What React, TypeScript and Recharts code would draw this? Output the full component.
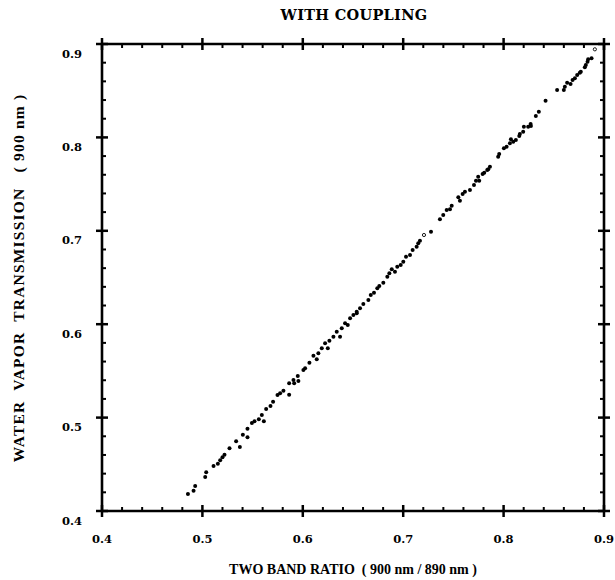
import React from 'react';
import { ScatterChart, Scatter, XAxis, YAxis } from 'recharts';

const ratio = [
  0.4856, 0.4912, 0.4928, 0.5028, 0.5038, 0.5111, 0.5154, 0.5177, 0.52, 0.522,
  0.527, 0.5336, 0.5373, 0.5403, 0.5449, 0.5449, 0.5493, 0.5519, 0.5562, 0.5612,
  0.5592, 0.5635, 0.5678, 0.5704, 0.5748, 0.5774, 0.5807, 0.5864, 0.5864, 0.5907,
  0.5914, 0.595, 0.5956, 0.6006, 0.6023, 0.6066, 0.6106, 0.6139, 0.6155, 0.6189,
  0.6222, 0.6249, 0.6265, 0.6305, 0.6338, 0.6371, 0.6388, 0.6421, 0.6448, 0.6471,
  0.6504, 0.6537, 0.657, 0.6603, 0.6537, 0.6653, 0.6677, 0.6709, 0.6742, 0.6762,
  0.6802, 0.6842, 0.6862, 0.6886, 0.6918, 0.6941, 0.6975, 0.7001, 0.7028, 0.7068,
  0.7094, 0.7134, 0.715, 0.7167, 0.7277, 0.7366, 0.7399, 0.7433, 0.7466, 0.7483,
  0.7549, 0.7565, 0.7592, 0.7615, 0.7665, 0.7705, 0.7725, 0.7757, 0.7747, 0.7791,
  0.7807, 0.7837, 0.7847, 0.7864, 0.7946, 0.7956, 0.8003, 0.803, 0.8063, 0.8073,
  0.8096, 0.8122, 0.8156, 0.8162, 0.8195, 0.8202, 0.8245, 0.8269, 0.8272, 0.8321,
  0.8351, 0.8418, 0.8533, 0.86, 0.861, 0.8633, 0.8667, 0.8687, 0.871, 0.8733,
  0.8759, 0.8769, 0.8809, 0.8819, 0.8836, 0.8842, 0.8876,
];

const transmission = [
  0.4182, 0.4217, 0.4268, 0.4364, 0.4414, 0.4482, 0.4507, 0.4543, 0.4575, 0.4603,
  0.4671, 0.4746, 0.4685, 0.4817, 0.4789, 0.4881, 0.4942, 0.496, 0.4982, 0.496,
  0.5028, 0.5092, 0.5124, 0.517, 0.5242, 0.526, 0.5288, 0.5245, 0.5367, 0.5403,
  0.5367, 0.5445, 0.5392, 0.551, 0.5528, 0.5588, 0.5663, 0.5624, 0.5688, 0.5742,
  0.5795, 0.5742, 0.5823, 0.5866, 0.592, 0.5866, 0.5956, 0.601, 0.5991, 0.6063,
  0.6099, 0.6134, 0.617, 0.6216, 0.6117, 0.6259, 0.6313, 0.6337, 0.6384, 0.6409,
  0.6444, 0.6509, 0.6545, 0.6588, 0.6562, 0.6616, 0.6634, 0.6669, 0.6723, 0.6741,
  0.6794, 0.683, 0.6866, 0.6894, 0.699, 0.7123, 0.7169, 0.7223, 0.723, 0.7269,
  0.7359, 0.7322, 0.7394, 0.7419, 0.7437, 0.749, 0.7537, 0.7537, 0.7579, 0.7608,
  0.7622, 0.7651, 0.7658, 0.7686, 0.7793, 0.7822, 0.7883, 0.79, 0.7937, 0.798,
  0.7954, 0.7972, 0.8015, 0.8036, 0.8061, 0.8115, 0.8115, 0.8143, 0.8122, 0.8229,
  0.8275, 0.8393, 0.8508, 0.8508, 0.8543, 0.8586, 0.8572, 0.8615, 0.8633, 0.8668,
  0.8693, 0.8704, 0.875, 0.8775, 0.8811, 0.8836, 0.8847,
];

const hollowRatio = [0.7207, 0.8909];
const hollowTransmission = [0.6955, 0.8943];

const majorTicks = [0.4, 0.5, 0.6, 0.7, 0.8, 0.9];
const minorTicks = [
  0.42, 0.44, 0.46, 0.48, 0.52, 0.54, 0.56, 0.58, 0.62, 0.64, 0.66, 0.68,
  0.72, 0.74, 0.76, 0.78, 0.82, 0.84, 0.86, 0.88,
];
const tickLabels = ['0.4', '0.5', '0.6', '0.7', '0.8', '0.9'];

const TITLE = 'WITH COUPLING';
const X_TITLE = 'TWO BAND RATIO  ( 900 nm / 890 nm )';
const Y_TITLE = 'WATER  VAPOR  TRANSMISSION   ( 900 nm )';

const filled = ratio.map((r, i) => ({ x: r, y: transmission[i] }));
const hollow = hollowRatio.map((r, i) => ({ x: r, y: hollowTransmission[i] }));
const allTicks = [...majorTicks, ...minorTicks].sort((a, b) => a - b);

const FONT = '"DejaVu Serif", serif';
const TFONT = '"Liberation Serif", "Times New Roman", serif';

const labelFor = (v: number) => {
  const i = majorTicks.findIndex((m) => Math.abs(m - v) < 1e-6);
  return i >= 0 ? tickLabels[i] : null;
};

const makeTick = (orientation: 'bottom' | 'top' | 'left' | 'right') => (props: any) => {
  const x = Number(props.x);
  const y = Number(props.y);
  const lbl = labelFor(props.payload.value);
  const major = lbl !== null;
  let d = '';
  let w = 2;
  if (orientation === 'bottom' || orientation === 'top') {
    if (major) {
      d = `M${x},${y - 6}L${x},${y + 6}`;
      w = 2.5;
    } else {
      const k = orientation === 'bottom' ? -4 : 4;
      d = `M${x},${y}L${x},${y + k}`;
    }
  } else {
    if (major) {
      d = `M${x - 6},${y}L${x + 6},${y}`;
      w = 2.5;
    } else {
      const k = orientation === 'left' ? 4 : -4;
      d = `M${x},${y}L${x + k},${y}`;
    }
  }
  return (
    <g>
      <path d={d} stroke="#000" strokeWidth={w} fill="none" />
      {major && orientation === 'bottom' ? (
        <text x={x} y={y + 32} textAnchor="middle" fontFamily={FONT} fontWeight="bold" fontSize={11.5} fill="#000">
          {lbl}
        </text>
      ) : null}
      {major && orientation === 'left' ? (
        <text x={x - 20} y={y + 13.5} textAnchor="end" fontFamily={FONT} fontWeight="bold" fontSize={11.5} fill="#000">
          {lbl}
        </text>
      ) : null}
    </g>
  );
};

const FilledDot = (p: any) => <circle cx={p.cx} cy={p.cy} r={2} fill="#000" />;
const HollowDot = (p: any) => <circle cx={p.cx} cy={p.cy} r={1.6} fill="#fff" stroke="#000" strokeWidth={0.9} />;

const axisLine = { stroke: '#000', strokeWidth: 2.6 };

export default function App() {
  return (
    <div style={{ position: 'absolute', left: 0, top: 0, width: 615, height: 580, background: '#fff' }}>
      <ScatterChart width={615} height={580} margin={{ top: 43, right: 10, bottom: 0, left: 0 }}>
        <XAxis
          xAxisId="b"
          dataKey="x"
          type="number"
          domain={[0.4, 0.9]}
          ticks={allTicks}
          interval={0}
          allowDataOverflow
          height={69}
          orientation="bottom"
          tickSize={0}
          tickMargin={0}
          tickLine={false}
          axisLine={axisLine}
          tick={makeTick('bottom')}
        />
        <XAxis
          xAxisId="t"
          dataKey="x"
          type="number"
          domain={[0.4, 0.9]}
          ticks={allTicks}
          interval={0}
          allowDataOverflow
          height={1}
          orientation="top"
          tickSize={0}
          tickMargin={0}
          tickLine={false}
          axisLine={axisLine}
          tick={makeTick('top')}
        />
        <YAxis
          yAxisId="l"
          dataKey="y"
          type="number"
          domain={[0.4, 0.9]}
          ticks={allTicks}
          interval={0}
          allowDataOverflow
          width={102}
          orientation="left"
          tickSize={0}
          tickMargin={0}
          tickLine={false}
          axisLine={axisLine}
          tick={makeTick('left')}
        />
        <YAxis
          yAxisId="r"
          dataKey="y"
          type="number"
          domain={[0.4, 0.9]}
          ticks={allTicks}
          interval={0}
          allowDataOverflow
          width={1}
          orientation="right"
          tickSize={0}
          tickMargin={0}
          tickLine={false}
          axisLine={axisLine}
          tick={makeTick('right')}
        />
        <Scatter data={filled} xAxisId="b" yAxisId="l" shape={FilledDot} isAnimationActive={false} />
        <Scatter data={hollow} xAxisId="b" yAxisId="l" shape={HollowDot} isAnimationActive={false} />
      </ScatterChart>
      <svg width={615} height={580} style={{ position: 'absolute', left: 0, top: 0, pointerEvents: 'none' }}>
        <text x={354} y={20} textAnchor="middle" fontFamily={FONT} fontWeight="bold" fontSize={14.5} letterSpacing={0.3} fill="#000">
          {TITLE}
        </text>
        <text x={353} y={574} textAnchor="middle" fontFamily={TFONT} fontWeight="bold" fontSize={14} fill="#000" style={{ whiteSpace: 'pre' }}>
          {X_TITLE}
        </text>
        <text
          x={0}
          y={0}
          transform="translate(24,278) rotate(-90)"
          textAnchor="middle"
          fontFamily={TFONT}
          fontWeight="bold"
          fontSize={15.5}
          letterSpacing={1.2}
          fill="#000"
          style={{ whiteSpace: 'pre' }}
        >
          {Y_TITLE}
        </text>
      </svg>
    </div>
  );
}
